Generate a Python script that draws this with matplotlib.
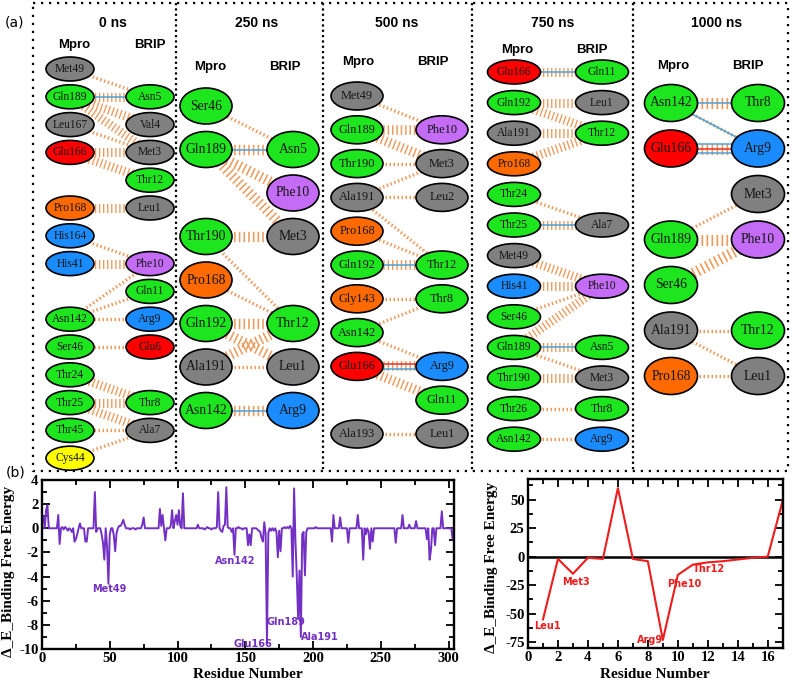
import matplotlib
matplotlib.use("Agg")
import matplotlib.pyplot as plt
from matplotlib.patches import Ellipse
from matplotlib.ticker import MultipleLocator

plt.rcParams['axes.unicode_minus'] = False

W, H = 793, 681

# ---------------- data: interaction diagrams ----------------
COLORS = {'G': '#1ee61e', 'A': '#808080', 'R': '#ff0000', 'O': '#ff6a00',
          'B': '#1a8cff', 'P': '#c46cf5', 'Y': '#ffff00'}

times = ['0 ns', '250 ns', '500 ns', '750 ns', '1000 ns']

mpro_0 = [('Met49', 'A', 0), ('Gln189', 'G', 1), ('Leu167', 'A', 2), ('Glu166', 'R', 3),
          ('Pro168', 'O', 5), ('His164', 'B', 6), ('His41', 'B', 7), ('Asn142', 'G', 9),
          ('Ser46', 'G', 10), ('Thr24', 'G', 11), ('Thr25', 'G', 12), ('Thr45', 'G', 13),
          ('Cys44', 'Y', 14)]
brip_0 = [('Asn5', 'G', 1), ('Val4', 'A', 2), ('Met3', 'A', 3), ('Thr12', 'G', 4),
          ('Leu1', 'A', 5), ('Phe10', 'P', 7), ('Gln11', 'G', 8), ('Arg9', 'B', 9),
          ('Glu6', 'R', 10), ('Thr8', 'G', 12), ('Ala7', 'A', 13)]
links_0 = [('Met49', 'Asn5', 'd'), ('Gln189', 'Asn5', 'Hh'), ('Gln189', 'Val4', 'h'),
           ('Gln189', 'Met3', 'h'), ('Leu167', 'Met3', 'd'), ('Glu166', 'Met3', 'h'),
           ('Glu166', 'Thr12', 'h'), ('Pro168', 'Leu1', 'h'), ('His164', 'Phe10', 'd'),
           ('His41', 'Phe10', 'h'), ('Asn142', 'Phe10', 'd'), ('Asn142', 'Gln11', 'd'),
           ('Asn142', 'Arg9', 'd'), ('Ser46', 'Glu6', 'd'), ('Thr24', 'Thr8', 'h'),
           ('Thr25', 'Thr8', 'h'), ('Thr25', 'Ala7', 'h'), ('Thr45', 'Ala7', 'd'),
           ('Cys44', 'Ala7', 'd')]

mpro_250 = [('Ser46', 'G', 0), ('Gln189', 'G', 1), ('Thr190', 'G', 3), ('Pro168', 'O', 4),
            ('Gln192', 'G', 5), ('Ala191', 'A', 6), ('Asn142', 'G', 7)]
brip_250 = [('Asn5', 'G', 1), ('Phe10', 'P', 2), ('Met3', 'A', 3), ('Thr12', 'G', 5),
            ('Leu1', 'A', 6), ('Arg9', 'B', 7)]
links_250 = [('Ser46', 'Asn5', 'd'), ('Gln189', 'Asn5', 'Hh'), ('Gln189', 'Phe10', 'h'),
             ('Gln189', 'Met3', 'h'), ('Thr190', 'Met3', 'h'), ('Thr190', 'Thr12', 'd'),
             ('Pro168', 'Thr12', 'd'), ('Gln192', 'Thr12', 'h'), ('Gln192', 'Leu1', 'h'),
             ('Ala191', 'Thr12', 'h'), ('Ala191', 'Leu1', 'd'), ('Asn142', 'Arg9', 'Hh')]

mpro_500 = [('Met49', 'A', 0), ('Gln189', 'G', 1), ('Thr190', 'G', 2), ('Ala191', 'A', 3),
            ('Pro168', 'O', 4), ('Gln192', 'G', 5), ('Gly143', 'O', 6), ('Asn142', 'G', 7),
            ('Glu166', 'R', 8), ('Ala193', 'A', 10)]
brip_500 = [('Phe10', 'P', 1), ('Met3', 'A', 2), ('Leu2', 'A', 3), ('Thr12', 'G', 5),
            ('Thr8', 'G', 6), ('Arg9', 'B', 8), ('Gln11', 'G', 9), ('Leu1', 'A', 10)]
links_500 = [('Met49', 'Phe10', 'd'), ('Gln189', 'Phe10', 'h'), ('Gln189', 'Met3', 'h'),
             ('Thr190', 'Met3', 'd'), ('Ala191', 'Met3', 'd'), ('Ala191', 'Leu2', 'd'),
             ('Ala191', 'Thr12', 'd'), ('Pro168', 'Thr12', 'd'), ('Gln192', 'Thr12', 'Hh'),
             ('Gly143', 'Thr8', 'd'), ('Asn142', 'Thr8', 'd'), ('Asn142', 'Arg9', 'd'),
             ('Glu166', 'Arg9', 'SHh'), ('Glu166', 'Gln11', 'h'), ('Ala193', 'Leu1', 'd')]

mpro_750 = [('Glu166', 'R', 0), ('Gln192', 'G', 1), ('Ala191', 'A', 2), ('Pro168', 'O', 3),
            ('Thr24', 'G', 4), ('Thr25', 'G', 5), ('Met49', 'A', 6), ('His41', 'B', 7),
            ('Ser46', 'G', 8), ('Gln189', 'G', 9), ('Thr190', 'G', 10), ('Thr26', 'G', 11),
            ('Asn142', 'G', 12)]
brip_750 = [('Gln11', 'G', 0), ('Leu1', 'A', 1), ('Thr12', 'G', 2), ('Ala7', 'A', 5),
            ('Phe10', 'P', 7), ('Asn5', 'G', 9), ('Met3', 'A', 10), ('Thr8', 'G', 11),
            ('Arg9', 'B', 12)]
links_750 = [('Glu166', 'Gln11', 'Hh'), ('Gln192', 'Leu1', 'h'), ('Gln192', 'Thr12', 'h'),
             ('Ala191', 'Thr12', 'h'), ('Pro168', 'Thr12', 'h'), ('Thr24', 'Ala7', 'd'),
             ('Thr25', 'Ala7', 'Hh'), ('Met49', 'Phe10', 'h'), ('His41', 'Phe10', 'h'),
             ('Ser46', 'Phe10', 'd'), ('Gln189', 'Phe10', 'h'), ('Gln189', 'Asn5', 'Hh'),
             ('Gln189', 'Met3', 'd'), ('Thr190', 'Met3', 'h'), ('Thr26', 'Thr8', 'd'),
             ('Asn142', 'Arg9', 'd')]

mpro_1000 = [('Asn142', 'G', 0), ('Glu166', 'R', 1), ('Gln189', 'G', 3), ('Ser46', 'G', 4),
             ('Ala191', 'A', 5), ('Pro168', 'O', 6)]
brip_1000 = [('Thr8', 'G', 0), ('Arg9', 'B', 1), ('Met3', 'A', 2), ('Phe10', 'P', 3),
             ('Thr12', 'G', 5), ('Leu1', 'A', 6)]
links_1000 = [('Asn142', 'Thr8', 'Hh'), ('Asn142', 'Arg9', 'Hd'), ('Glu166', 'Arg9', 'HSHh'),
              ('Gln189', 'Met3', 'd'), ('Gln189', 'Phe10', 'h'), ('Ser46', 'Phe10', 'h'),
              ('Ala191', 'Thr12', 'd'), ('Ala191', 'Leu1', 'd'), ('Pro168', 'Leu1', 'd')]

panels_data = [(mpro_0, brip_0, links_0), (mpro_250, brip_250, links_250),
               (mpro_500, brip_500, links_500), (mpro_750, brip_750, links_750),
               (mpro_1000, brip_1000, links_1000)]

# ---------------- data: energy profiles ----------------
mpro_energy = [
    1.0, 0.0, 1.5, 1.9, 0.0, 0.0, 0.0, 0.0, 0.0, 0.0, 0.0, 1.1, -1.3, 0.0, 0.1, -0.1, 0.1, 0.0, -0.2, 0.0,
    -0.1, -0.3, 0.0, -1.1, -0.9, -0.5, 0.0, 0.4, 0.0, 0.0, 0.0, -1.1, -1.1, 0.0, 0.0, 0.0, 0.0, 0.0, 3.0, -0.3,
    0.0, 0.0, 0.0, -0.5, -1.2, -2.6, 0.0, -1.5, -4.6, -0.5, 0.0, 0.0, -0.6, -1.9, -0.4, 0.0, 0.2, 0.2, 0.4, 0.7,
    0.3, 0.0, 0.0, 0.0, -0.1, 0.0, 0.0, 0.0, -0.1, 0.0, 0.0, 0.0, 0.0, 0.3, 0.9, 0.0, 0.0, 0.0, 0.0, 0.0,
    0.0, 0.0, 0.0, 0.0, 0.0, 0.0, 1.6, 0.2, 1.1, 0.0, -1.0, 0.0, 0.0, 0.0, 0.2, 1.5, 0.0, 0.6, 1.1, 0.3,
    1.5, 0.2, 0.0, 2.9, 0.0, 0.0, 0.0, 0.0, 0.0, 0.0, 0.0, 0.0, 0.0, 0.0, 0.3, 0.0, 0.0, 0.0, 0.0, -0.1,
    0.0, 0.1, 0.0, 0.0, -0.1, 0.0, 0.0, 0.0, 0.1, 3.0, 0.0, -0.2, -0.3, 0.2, 0.3, 3.4, 0.1, 0.0, 0.0, -0.3,
    0.0, -2.2, 0.0, 0.0, 0.1, 0.0, 0.0, -0.1, 0.0, 0.0, 0.0, -1.4, -0.5, -1.4, 0.0, 0.0, 0.0, 0.0, -0.1, -0.2,
    -0.3, -0.8, -1.1, 0.5, -0.4, -9.5, -0.4, 0.0, -0.2, 0.0, -0.2, 0.0, -0.3, -2.4, -0.2, -1.9, 0.0, 0.0, 0.1, 0.0,
    0.1, 0.0, 0.2, 0.0, -4.0, 3.3, -1.0, -4.0, -7.5, -3.5, -9.0, -0.5, -0.3, -3.9, -0.3, 0.0, 0.0, 0.0, 0.0, 0.0,
    0.0, 0.1, 0.0, 0.0, 0.0, 0.0, 0.0, 0.0, 0.0, 0.0, 0.0, 0.0, 0.0, -1.1, 1.1, 0.0, 0.0, 0.0, 0.0, 0.9,
    0.0, 0.0, 0.0, 0.0, 0.0, -1.2, 0.0, 0.0, 0.0, 0.0, 0.0, 0.0, 1.1, 0.0, 0.0, 0.0, -2.6, 0.0, -0.5, 0.0,
    -0.3, -1.7, 0.0, -1.1, 0.0, 0.0, 0.0, 0.0, 0.0, 0.0, 0.0, 0.0, 0.0, 0.0, 0.0, 0.0, 0.0, 0.0, 0.0, 0.0,
    -1.2, 0.0, 0.0, 0.0, 0.0, 1.1, 0.0, 0.0, 0.0, 0.0, 0.3, 0.0, 0.0, 0.0, 0.0, 0.6, 0.0, 0.0, 0.0, 0.0,
    0.0, 0.0, 0.0, -0.9, 0.0, -2.6, -1.8, 0.0, 0.0, -1.4, 0.0, 0.0, 0.0, 0.0, 1.4, 0.0, 0.0, 0.0, 0.0, 0.0,
    0.0, 0.0, -0.9, 0.0]
mpro_residues = list(range(1, len(mpro_energy) + 1))
mpro_labels = [('Met49', 49.4, -5.05), ('Asn142', 142.2, -2.75), ('Glu166', 155.5, -9.6),
               ('Gln189', 179.8, -7.8), ('Ala191', 204.9, -9.03)]

brip_residues = list(range(1, 18))
brip_energy = [-55, -2, -15, -1, -2, 60, -2, -4, -73, -16, -7, -5, -4, -2.5, -1, 0, 49]
brip_labels = [('Leu1', 1.3, -61), ('Met3', 3.2, -22.5), ('Arg9', 8.15, -73),
               ('Phe10', 10.4, -24), ('Thr12', 12.1, -11)]

# ---------------- layout (pixels) ----------------
LAYOUT = [
    dict(title=(113, 23), hm=(74, 45), hb=(150, 45), xm=70, xb=150, y0=69, dy=27.8, w=48, h=24, fs=8.3, hw=6.5),
    dict(title=(257, 23), hm=(210, 67), hb=(285, 67), xm=206, xb=293, y0=106, dy=43.5, w=52, h=36, fs=9.8, hw=7.5),
    dict(title=(397, 23), hm=(358, 62), hb=(433, 62), xm=357, xb=442, y0=96, dy=33.8, w=52, h=28, fs=8.8, hw=7),
    dict(title=(553, 23), hm=(517, 50), hb=(592, 50), xm=514, xb=602, y0=72, dy=30.6, w=53, h=24, fs=8.3, hw=6.5),
    dict(title=(717, 23), hm=(673, 66), hb=(748, 66), xm=671, xb=758, y0=103, dy=45.5, w=53, h=37, fs=9.8, hw=8),
]
FRAME = dict(x0=33, x1=788, y0=3, y1=471, dividers=[176, 323, 472, 633])

ORANGE = '#ee9a5c'
HB_BLUE = '#4aa3dc'
SB_RED = '#e8302a'

fig = plt.figure(figsize=(W / 100, H / 100), dpi=100)
ax0 = fig.add_axes([0, 0, 1, 1])
ax0.set_xlim(0, W)
ax0.set_ylim(H, 0)
ax0.axis('off')

# frame
ax0.plot([FRAME['x0'], FRAME['x1'], FRAME['x1'], FRAME['x0'], FRAME['x0']],
         [FRAME['y0'], FRAME['y0'], FRAME['y1'], FRAME['y1'], FRAME['y0']],
         color='black', lw=1.6, linestyle=(0, (1, 2.6)), zorder=0.5)
for xd in FRAME['dividers']:
    ax0.plot([xd, xd], [FRAME['y0'], FRAME['y1']], color='black', lw=1.6,
             linestyle=(0, (1, 1.4)), zorder=0.5)

ax0.text(15, 23, '(a)', fontsize=10, family='DejaVu Sans', ha='center', va='center')
ax0.text(16, 473, '(b)', fontsize=10, family='DejaVu Sans', ha='center', va='center')

for t, (mp, br, links), L in zip(times, panels_data, LAYOUT):
    ax0.text(*L['title'], t, fontsize=10, fontweight='bold', family='Liberation Sans',
             ha='center', va='center')
    ax0.text(*L['hm'], 'Mpro', fontsize=9.5, fontweight='bold', family='Liberation Sans',
             ha='center', va='center')
    ax0.text(*L['hb'], 'BRIP', fontsize=9.5, fontweight='bold', family='Liberation Sans',
             ha='center', va='center')
    pos_m = {n: (L['xm'], L['y0'] + r * L['dy']) for n, c, r in mp}
    pos_b = {n: (L['xb'], L['y0'] + r * L['dy']) for n, c, r in br}
    for a, b, kind in links:
        (x1, y1), (x2, y2) = pos_m[a], pos_b[b]
        if 'h' in kind:
            ax0.plot([x1, x2], [y1, y2], color=ORANGE, lw=L['hw'],
                     linestyle=(0, (0.15, 0.3)), dash_capstyle='butt', zorder=1)
        if 'd' in kind:
            ax0.plot([x1, x2], [y1, y2], color=ORANGE, lw=2.4,
                     linestyle=(0, (0.45, 0.75)), dash_capstyle='butt', zorder=1)
        solids = [k for k in kind if k in 'HS']
        n = len(solids)
        for i, k in enumerate(solids):
            off = (i - (n - 1) / 2) * 4.5
            ax0.plot([x1, x2], [y1 + off, y2 + off], color=HB_BLUE if k == 'H' else SB_RED,
                     lw=1.1, zorder=2)
    for nodes, pos in ((mp, pos_m), (br, pos_b)):
        for n, c, r in nodes:
            x, y = pos[n]
            ax0.add_patch(Ellipse((x, y), L['w'], L['h'], facecolor=COLORS[c],
                                  edgecolor='black', lw=1.2, zorder=3))
            ax0.text(x, y, n, fontsize=L['fs'], family='Liberation Serif', ha='center',
                     va='center', color='#151515', zorder=4)

# ---------------- bottom-left: Mpro energy ----------------
PURPLE = '#7330c4'
serif = 'Liberation Serif'

def style_axes(ax):
    for s in ax.spines.values():
        s.set_linewidth(1.7)
    ax.tick_params(which='both', direction='in', top=True, right=True, width=1.3)
    ax.tick_params(which='major', length=6, labelsize=10.5, pad=2.5)
    ax.tick_params(which='minor', length=3.5)
    for lab in ax.get_xticklabels() + ax.get_yticklabels():
        lab.set_fontfamily(serif)
        lab.set_fontweight('bold')

ax1 = fig.add_axes([42 / W, 1 - 649 / H, (454 - 42) / W, (649 - 480) / H])
ax1.plot(mpro_residues, mpro_energy, color=PURPLE, lw=1.4)
ax1.set_xlim(0, 304)
ax1.set_ylim(-10, 4)
ax1.xaxis.set_major_locator(MultipleLocator(50))
ax1.xaxis.set_minor_locator(MultipleLocator(25))
ax1.yaxis.set_major_locator(MultipleLocator(2))
ax1.yaxis.set_minor_locator(MultipleLocator(1))
style_axes(ax1)
for name, xv, yv in mpro_labels:
    ax1.text(xv, yv, name, color=PURPLE, fontsize=7, fontweight='bold',
             family='DejaVu Sans', ha='center', va='center')

# ---------------- bottom-right: BRIP energy ----------------
ax2 = fig.add_axes([528 / W, 1 - 648 / H, (782.7 - 528) / W, (648 - 479) / H])
ax2.axhline(0, color='black', lw=1.8, zorder=1)
ax2.plot(brip_residues, brip_energy, color='#ee1c1c', lw=1.5, zorder=2)
ax2.set_xlim(0, 17)
ax2.set_ylim(-80, 68)
ax2.xaxis.set_major_locator(MultipleLocator(2))
ax2.xaxis.set_minor_locator(MultipleLocator(1))
ax2.yaxis.set_major_locator(MultipleLocator(25))
ax2.yaxis.set_minor_locator(MultipleLocator(12.5))
style_axes(ax2)
for name, xv, yv in brip_labels:
    ax2.text(xv, yv, name, color='#ee1c1c', fontsize=7, fontweight='bold',
             family='DejaVu Sans', ha='center', va='center', zorder=3)

# axis labels
for cx in (248, 655):
    fig.text(cx / W, 1 - 674.5 / H, 'Residue Number', fontsize=11, fontweight='bold',
             family=serif, ha='center', va='center')
for cx, cy in ((9, 571), (491, 567)):
    fig.text(cx / W, 1 - cy / H, 'Δ_E_Binding Free Energy', fontsize=11, fontweight='bold',
             family=serif, ha='center', va='center', rotation=90)

fig.savefig('out.png', dpi=100)
